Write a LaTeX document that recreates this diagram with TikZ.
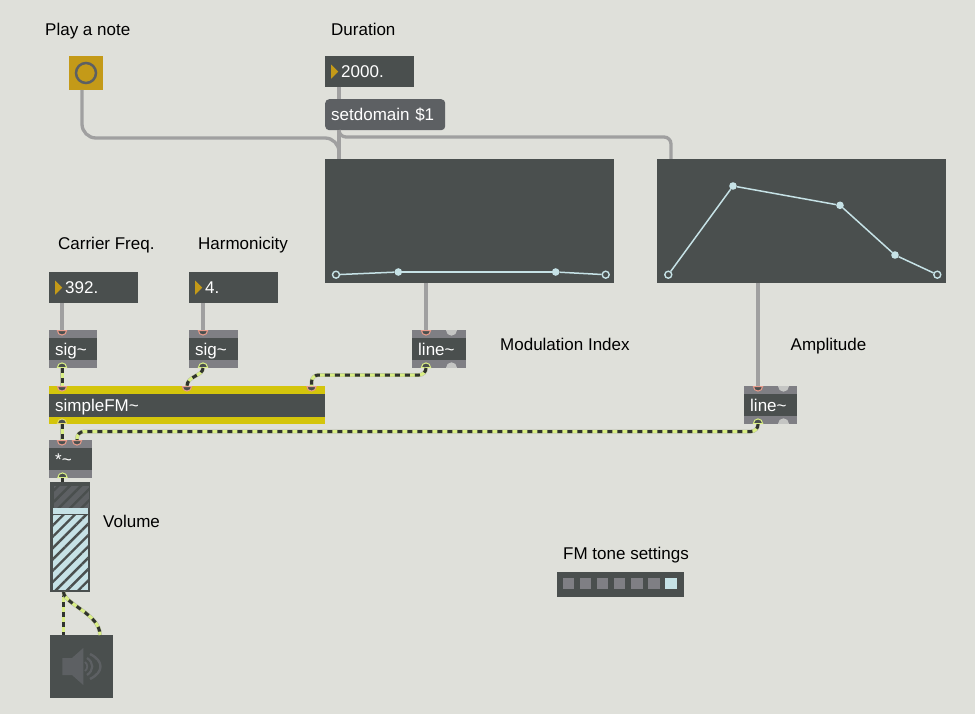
\documentclass[tikz,border=0pt]{standalone}
\usepackage{fontspec}
\setmainfont{Liberation Sans}
\usetikzlibrary{shapes.geometric, patterns.meta, positioning}
\definecolor{patcher}{HTML}{DFE0DA}
\definecolor{objdark}{HTML}{4A4F4E}
\definecolor{objstrip}{HTML}{7F7F84}
\definecolor{msggrey}{HTML}{5D6063}
\definecolor{fmyellow}{HTML}{D4C50C}
\definecolor{gold}{HTML}{C49A18}
\definecolor{ice}{HTML}{C6E2E6}
\definecolor{cablegrey}{HTML}{A0A0A0}
\definecolor{lime}{HTML}{D9EE85}
\definecolor{limeedge}{HTML}{B4B8A4}
\definecolor{cabledark}{HTML}{30332E}
\definecolor{inpink}{HTML}{E89C8C}
\definecolor{deadport}{HTML}{C4C5C3}
\tikzset{%
  % Specifications for style of nodes:
  base/.style = {rectangle, fill=objdark, inner sep=0pt, anchor=north west},
  wh/.style 2 args = {minimum width=#1, minimum height=#2},
  labeltext/.style = {anchor=base west, inner sep=0pt, text=black},
  objtext/.style = {text=white, inner xsep=6pt, inner ysep=0pt, align=left,
                    text width=#1-12pt, text height=12pt, text depth=0pt},
  strips/.style 2 args = {path picture={
      \fill[#1] (path picture bounding box.north west) rectangle
        ([yshift=-#2]path picture bounding box.north east);
      \fill[#1] (path picture bounding box.south west) rectangle
        ([yshift=#2]path picture bounding box.south east);}},
  numbox/.style = {base, wh={89pt}{31pt}, objtext=89pt,
      execute at begin node={\hspace*{10pt}},
      path picture={
      \fill[gold] ([xshift=6pt,yshift=7pt]path picture bounding box.west) --
        ([xshift=6pt,yshift=-7pt]path picture bounding box.west) --
        ([xshift=13pt]path picture bounding box.west) -- cycle;}},
  objbox/.style 2 args = {base, wh={#1}{#2}, objtext=#1, strips={objstrip}{8pt}},
  envbox/.style = {base, wh={289pt}{124pt}},
  % ports on the edges of the boxes
  inport/.style = {semicircle, shape border rotate=180, draw=#1, fill=objdark,
                   line width=1pt, minimum size=4.6pt, inner sep=0pt, anchor=chord center},
  inport/.default = inpink,
  outport/.style = {semicircle, draw=#1, fill=objdark, line width=1pt,
                    minimum size=4.6pt, inner sep=0pt, anchor=chord center},
  outport/.default = lime,
  deadin/.style = {semicircle, shape border rotate=180, fill=deadport, minimum size=5.5pt,
                   inner sep=0pt, anchor=chord center},
  deadout/.style = {semicircle, fill=deadport, minimum size=5.5pt, inner sep=0pt,
                    anchor=chord center},
  envdot/.style = {circle, fill=ice, minimum size=7.6pt, inner sep=0pt},
  envend/.style = {circle, draw=ice, fill=objdark, line width=1.4pt, minimum size=7pt,
                   inner sep=0pt},
  envline/.style = {draw=ice, line width=1.5pt},
  tabcell/.style = {rectangle, fill=objstrip, minimum size=11.5pt, inner sep=0pt,
                    node distance=17.1pt},
  msgcable/.style = {draw=cablegrey, line width=3.3pt},
  sigcable/.style = {draw=lime, line width=3pt,
                     preaction={draw=limeedge, line width=3.8pt},
                     postaction={draw=cabledark, dash pattern=on 5pt off 5pt}}
}
\begin{document}
\begin{tikzpicture}[x=1pt, y=-1pt, font=\fontsize{17}{20}\selectfont]
\useasboundingbox (0,0) rectangle (975,714);
\fill[patcher] (0,0) rectangle (975,714);
% labels
\node (playtxt)[labeltext] at (45,36) {Play a note};
\node (durtxt)[labeltext] at (331,36) {Duration};
\node (cartxt)[labeltext] at (58,250) {Carrier Freq.};
\node (hartxt)[labeltext] at (198,250) {Harmonicity};
\node (modtxt)[labeltext] at (500,350) {Modulation Index};
\node (amptxt)[labeltext] at (790.5,350) {Amplitude};
\node (voltxt)[labeltext] at (103,527) {Volume};
\node (fmtxt)[labeltext] at (563,559) {FM tone settings};
% button and messages
\node (play)[base, fill=gold, wh={34pt}{34pt}] at (69,56) {};
\node (playring)[circle, draw=msggrey, line width=2.5pt, minimum size=20pt, inner sep=0pt] at (86,73) {};
\node (dur)[numbox] at (325,56) {2000.};
\node (setd)[base, fill=msggrey, rounded corners=4pt, wh={120pt}{31pt}, objtext=120pt] at (325,99) {setdomain \$1};
% envelopes
\node (env1)[envbox] at (325,159) {};
\node (env2)[envbox] at (657,159) {};
\node (e1a)[envend] at (336,274.7) {};
\node (e1b)[envdot] at (398.3,272) {};
\node (e1c)[envdot] at (555.7,272) {};
\node (e1d)[envend] at (605.7,274.7) {};
\node (e2a)[envend] at (668.3,274.7) {};
\node (e2b)[envdot] at (733,186) {};
\node (e2c)[envdot] at (840,205.3) {};
\node (e2d)[envdot] at (895,255) {};
\node (e2e)[envend] at (937.3,274.7) {};
\draw[envline] (e1a)--(e1b);
\draw[envline, line width=2pt] (e1b)--(e1c);
\draw[envline] (e1c)--(e1d);
\draw[envline] (e2a)--(e2b);
\draw[envline] (e2b)--(e2c);
\draw[envline] (e2c)--(e2d);
\draw[envline] (e2d)--(e2e);
% numbers and objects
\node (car)[numbox] at (49,272) {392.};
\node (har)[numbox] at (189,272) {4.};
\node (sigcar)[objbox={48pt}{38pt}] at (49,330) {sig\textasciitilde};
\node (sighar)[objbox={49pt}{38pt}] at (189,330) {sig\textasciitilde};
\node (line1)[objbox={54pt}{38pt}] at (412,330) {line\textasciitilde};
\node (line2)[objbox={53pt}{38pt}] at (744,386) {line\textasciitilde};
\node (fm)[base, wh={276pt}{38pt}, objtext=276pt, strips={fmyellow}{7.5pt}] at (49,386) {simpleFM\textasciitilde};
\node (times)[objbox={43pt}{38pt}] at (49,440) {*\textasciitilde};
% fader
\node (fader)[base, wh={40pt}{110pt}] at (50,482) {};
\node (faderup)[base, wh={35pt}{22pt}, preaction={fill=msggrey},
  pattern={Lines[angle=45,distance=8pt,line width=2.4pt]}, pattern color=objdark] at (53,484.5) {};
\node (faderlow)[base, wh={35pt}{75.5pt}, preaction={fill=ice},
  pattern={Lines[angle=45,distance=8pt,line width=2.4pt]}, pattern color=objdark] at (53,514.5) {};
\node (knob)[base, fill=ice, wh={35pt}{6.3pt}] at (53,507.8) {};
% speaker
\node (spk)[base, wh={63pt}{63pt}] at (50,635) {};
\fill[msggrey] (62.3,658) -- (72,658) -- (83.3,648) -- (83.3,685) -- (72,675) -- (62.3,675) -- cycle;
\draw[msggrey, line width=1.8pt] (85,662) .. controls (88,664.5) and (88,668.5) .. (85,671);
\draw[msggrey, line width=2.2pt] (87,658) .. controls (94,662.5) and (94,670.5) .. (87,675);
\draw[msggrey, line width=2.4pt] (90,654) .. controls (104,661) and (104,672) .. (90,679);
% tab
\node (tab)[base, wh={127pt}{25pt}] at (557,572) {};
\node (tab1)[tabcell] at (568.4,583.5) {};
\node (tab2)[tabcell, right of=tab1] {};
\node (tab3)[tabcell, right of=tab2] {};
\node (tab4)[tabcell, right of=tab3] {};
\node (tab5)[tabcell, right of=tab4] {};
\node (tab6)[tabcell, right of=tab5] {};
\node (tab7)[tabcell, fill=ice, right of=tab6] {};
% ports
\node (sigcarin)[inport] at (62,330) {};
\node (sigcarout)[outport] at (62,368) {};
\node (sigharin)[inport] at (203,330) {};
\node (sigharout)[outport] at (203,368) {};
\node (fmina)[inport] at (62,386) {};
\node (fminb)[inport] at (187,386) {};
\node (fminc)[inport] at (311.5,386) {};
\node (fmout)[outport=fmyellow!60!white] at (62,424) {};
\node (timesa)[inport] at (62,440) {};
\node (timesb)[inport] at (77,440) {};
\node (timesout)[outport] at (62.5,478) {};
\node (line1in)[inport] at (426,330) {};
\node (line1dead)[deadin] at (451.5,330) {};
\node (line1out)[outport] at (426,368) {};
\node (line1off)[deadout] at (451.5,368) {};
\node (line2in)[inport] at (758,386) {};
\node (line2dead)[deadin] at (783.5,386) {};
\node (line2out)[outport] at (758,424) {};
\node (line2off)[deadout] at (783.5,424) {};
\coordinate (playout) at (82,90);
\coordinate (durout) at (339,87);
\coordinate (setdin) at (339,99);
\coordinate (setdout) at (339,130);
\coordinate (env1in) at (339,159);
\coordinate (env2in) at (671,159);
\coordinate (env1out) at (426,283);
\coordinate (env2out) at (758,283);
\coordinate (carout) at (62,303);
\coordinate (harout) at (203,303);
\coordinate (faderin) at (62.5,482);
\coordinate (faderout) at (63.5,592);
\coordinate (spkina) at (63.5,635);
\coordinate (spkinb) at (100,635);
% grey cables
\draw[msgcable] (durout)--(setdin);
\draw[msgcable, rounded corners=14pt] (playout) -- ++(0,48) -- ++(257,0) -- (env1in);
\draw[msgcable, rounded corners=7pt] (setdout) -- ++(0,7) -| (env2in);
\draw[msgcable] (setdout)--(env1in);
\draw[msgcable] (env1out)--(line1in.chord center);
\draw[msgcable] (env2out)--(line2in.chord center);
\draw[msgcable] (carout)--(sigcarin.chord center);
\draw[msgcable] (harout)--(sigharin.chord center);
% signal cables
\draw[sigcable] (sigcarout.chord center)--(fmina.chord center);
\draw[sigcable] (sigharout.chord center) .. controls (203,376) and (187,376) .. (fminb.chord center);
\draw[sigcable, rounded corners=7pt] (line1out.chord center) -- ++(0,7) -| (fminc.chord center);
\draw[sigcable] (fmout.chord center)--(timesa.chord center);
\draw[sigcable, rounded corners=7pt] (line2out.chord center) -- ++(0,7.5) -| (timesb.chord center);
\draw[sigcable] (timesout.chord center)--(faderin);
\draw[sigcable] (faderout)--(spkina);
\draw[sigcable] (faderout) .. controls (64,604) and (100,614) .. (spkinb);
\end{tikzpicture}
\end{document}
